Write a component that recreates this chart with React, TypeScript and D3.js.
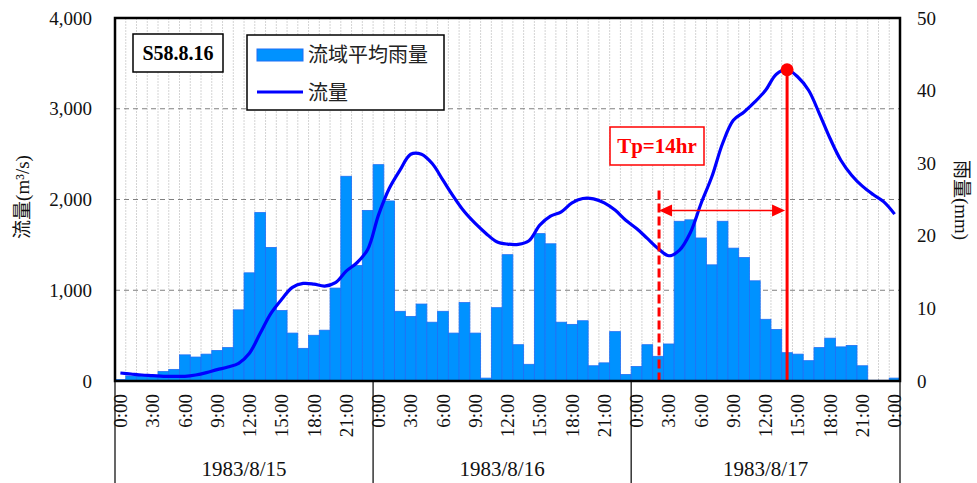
import React from "react";
import * as d3 from "d3";

// ---- data ----
const dayLabels = ["1983/8/15", "1983/8/16", "1983/8/17"];
const hourTickLabels = ["0:00", "3:00", "6:00", "9:00", "12:00", "15:00", "18:00", "21:00"];

// hourly basin-average rainfall (mm), 8/15 0:00 .. 8/18 0:00 (73 values)
const rainfall = [
  0.2, 0.7, 0.7, 0.8, 1.3, 1.6, 3.6, 3.3, 3.7, 4.2, 4.6, 9.8, 14.9, 23.2, 18.4, 9.7, 6.6, 4.5, 6.3, 7.0, 12.8, 28.2, 15.9, 23.5,
  29.8, 24.8, 9.6, 8.9, 10.6, 8.1, 9.6, 6.6, 10.8, 6.6, 0.4, 10.1, 17.4, 5.0, 2.3, 20.3, 18.9, 8.1, 7.8, 8.3, 2.1, 2.5, 6.8, 0.9,
  2.0, 5.0, 3.4, 5.1, 22.0, 22.2, 19.7, 16.0, 22.0, 18.3, 17.0, 13.8, 8.5, 7.1, 3.9, 3.7, 2.8, 4.6, 5.9, 4.7, 4.9, 2.1, 0.1, 0.1, 0.4,
];

// hourly discharge (m3/s)
const discharge = [
  88, 77, 66, 59, 51, 51, 51, 66, 92, 125, 154, 194, 305, 525, 745, 900, 1031, 1075, 1068, 1046, 1083, 1211, 1303, 1450,
  1828, 2121, 2323, 2499, 2499, 2396, 2213, 2029, 1864, 1736, 1626, 1534, 1508, 1505, 1545, 1717, 1817, 1864, 1963, 2011, 2007, 1963, 1883, 1772,
  1680, 1571, 1460, 1380, 1442, 1633, 1956, 2250, 2617, 2873, 2965, 3075, 3204, 3380, 3430, 3350, 3204, 2947, 2672, 2433, 2268, 2147, 2055, 1974, 1839,
];

const flowTicks = [0, 1000, 2000, 3000, 4000];
const rainTicks = [0, 10, 20, 30, 40, 50];
const tpStartIndex = 50;
const peakIndex = 62;
const tpLabel = "Tp=14hr";
const eventLabel = "S58.8.16";

const W = 977, H = 483;
const L = 115, R = 900, T = 18, B = 381;

const SERIF = "'Liberation Serif','Times New Roman','Noto Sans CJK JP',serif";
const CJK = "'Noto Sans CJK JP','Liberation Serif',sans-serif";

export default function App() {
  const idx = d3.range(rainfall.length);
  const x = d3.scaleBand<number>().domain(idx).range([L, R]).padding(0);
  const bw = x.bandwidth();
  const cx = (i: number) => (x(i) as number) + bw / 2;
  const yF = d3.scaleLinear().domain([0, 4000]).range([B, T]);
  const yR = d3.scaleLinear().domain([0, 50]).range([B, T]);

  const line = d3
    .line<number>()
    .x((_, i) => cx(i))
    .y((d) => yF(d))
    .curve(d3.curveCatmullRom.alpha(0.5));

  const fmt = d3.format(",");
  const hoursPerDay = 24;

  const peakX = cx(peakIndex);
  const peakY = yF(discharge[peakIndex]);
  const startX = cx(tpStartIndex) + 1;
  const arrowY = yF(1880);
  const dashTop = yF(2100);

  return (
    <div style={{ position: "absolute", left: 0, top: 0 }}>
      <svg width={W} height={H} style={{ display: "block", background: "#fff" }}>
        {/* vertical light grid */}
        {idx.slice(1).map((i) => (
          <line key={"vg" + i} x1={x(i)} x2={x(i)} y1={T} y2={B} stroke="#d4d4d4" strokeWidth={1} strokeDasharray="2,1" />
        ))}
        {/* horizontal dashed grid */}
        {flowTicks.slice(1, -1).map((t) => (
          <line key={"hg" + t} x1={L} x2={R} y1={yF(t)} y2={yF(t)} stroke="#808080" strokeWidth={1} strokeDasharray="5,4" />
        ))}
        {/* bars */}
        {rainfall.map((v, i) => (
          <rect key={"b" + i} x={x(i)} y={yR(v)} width={bw} height={B - yR(v)} fill="#0092ff" stroke="#1f6ff5" strokeWidth={0.8} />
        ))}
        {/* flow line */}
        <path d={line(discharge) || ""} fill="none" stroke="#0000ff" strokeWidth={3.2} strokeLinejoin="round" />

        {/* Tp annotation */}
        <line x1={startX} x2={startX} y1={dashTop} y2={B} stroke="#ff0000" strokeWidth={3} strokeDasharray="9,4" />
        <line x1={peakX} x2={peakX} y1={peakY} y2={B} stroke="#ff0000" strokeWidth={3} />
        <circle cx={peakX} cy={peakY} r={6.5} fill="#ff0000" />
        <line x1={startX + 12} x2={peakX - 14} y1={arrowY} y2={arrowY} stroke="#ff0000" strokeWidth={1.5} />
        <path d={`M${startX},${arrowY} L${startX + 13},${arrowY - 6} L${startX + 13},${arrowY + 6} Z`} fill="#ff0000" />
        <path d={`M${peakX - 2},${arrowY} L${peakX - 15},${arrowY - 6} L${peakX - 15},${arrowY + 6} Z`} fill="#ff0000" />
        <rect x={610} y={127} width={94} height={38} fill="#fff" stroke="#ff0000" strokeWidth={1.5} />
        <text x={657} y={146} dy="0.35em" textAnchor="middle" fontFamily={SERIF} fontWeight="bold" fontSize={21} fill="#ff0000">
          {tpLabel}
        </text>

        {/* event label */}
        <rect x={133} y={34} width={90} height={38} fill="#fff" stroke="#000" strokeWidth={1.5} />
        <text x={178} y={53} dy="0.35em" textAnchor="middle" fontFamily={SERIF} fontWeight="bold" fontSize={20} fill="#000">
          {eventLabel}
        </text>

        {/* legend */}
        <rect x={247} y={35} width={197} height={75} fill="#fff" stroke="#000" strokeWidth={1.5} />
        <rect x={257} y={49} width={46} height={12} fill="#0092ff" stroke="#1f6ff5" strokeWidth={1} />
        <text x={308} y={62} fontFamily={CJK} fontSize={20} fill="#222">流域平均雨量</text>
        <line x1={257} x2={303} y1={92} y2={92} stroke="#0000ff" strokeWidth={3.2} />
        <text x={308} y={100} fontFamily={CJK} fontSize={20} fill="#222">流量</text>

        {/* plot frame */}
        <rect x={L} y={T} width={R - L} height={B - T} fill="none" stroke="#000" strokeWidth={2.5} />

        {/* left axis labels */}
        {flowTicks.map((t) => (
          <text key={"lf" + t} x={92} y={yF(t)} dy="0.35em" textAnchor="end" fontFamily={SERIF} fontSize={19} fill="#111">
            {fmt(t)}
          </text>
        ))}
        <text transform={`translate(29,197) rotate(-90)`} textAnchor="middle" fontFamily={SERIF} fontSize={19} fill="#111">
          <tspan fontFamily={CJK}>流量</tspan>(m³/s)
        </text>

        {/* right axis labels */}
        {rainTicks.map((t) => (
          <text key={"rr" + t} x={917} y={yR(t)} dy="0.35em" textAnchor="start" fontFamily={SERIF} fontSize={19} fill="#111">
            {t}
          </text>
        ))}
        <text transform={`translate(955,200) rotate(90)`} textAnchor="middle" fontFamily={SERIF} fontSize={19} fill="#111">
          <tspan fontFamily={CJK}>雨量</tspan>(mm)
        </text>

        {/* x axis tick labels */}
        {idx
          .filter((i) => i % 3 === 0)
          .map((i) => {
            const lab = hourTickLabels[(i % hoursPerDay) / 3];
            return (
              <text key={"xt" + i} transform={`translate(${cx(i)},394) rotate(-90)`} dy="0.35em" textAnchor="end" fontFamily={SERIF} fontSize={19} fill="#111">
                {lab}
              </text>
            );
          })}
        {/* day separators and labels */}
        {[0, 24, 48].map((s) => (
          <line key={"ds" + s} x1={x(s)} x2={x(s)} y1={B} y2={H} stroke="#000" strokeWidth={1.2} />
        ))}
        <line x1={R} x2={R} y1={B} y2={H} stroke="#000" strokeWidth={1.2} />
        {dayLabels.map((d, k) => {
          const s = k * hoursPerDay;
          const e = k === dayLabels.length - 1 ? R : (x(s + hoursPerDay) as number);
          const mid = ((x(s) as number) + e) / 2;
          return (
            <text key={"dl" + k} x={mid} y={476} textAnchor="middle" fontFamily={SERIF} fontSize={21} fill="#111">
              {d}
            </text>
          );
        })}
      </svg>
    </div>
  );
}
